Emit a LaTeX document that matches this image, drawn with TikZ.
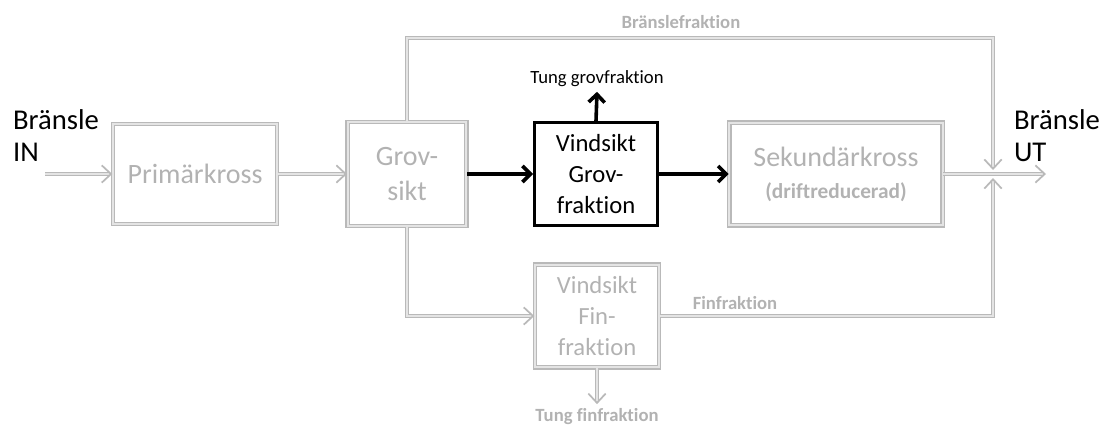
\documentclass[tikz,border=0pt]{standalone}
\usepackage{fontspec}
\setmainfont{Carlito}[Ligatures={NoCommon}]
\usepackage{tikz}
\usetikzlibrary{arrows.meta, positioning}
\definecolor{lightgraytext}{RGB}{178,178,178}
\definecolor{graylineout}{RGB}{185,185,185}
\definecolor{graylinein}{RGB}{228,228,228}
\tikzset{
  basebox/.style={rectangle, align=center, inner sep=2pt, font=\fontsize{21}{24}\selectfont},
  graybox/.style={basebox, draw=graylineout, double=graylinein, line width=1pt, double distance=1.4pt, text=lightgraytext},
  blackbox/.style={basebox, draw=black, line width=2.5pt, text=black},
  smalltext/.style={font=\fontsize{18.5}{23}\selectfont},
  grayarrow/.style={-{Straight Barb[length=7pt,width=13pt,line width=1.3pt]}, draw=graylineout, double=graylinein, line width=1pt, double distance=1.4pt},
  blackarrow/.style={-{Straight Barb[length=6pt,width=12pt]}, line width=2.7pt, color=black},
  graylabel/.style={font=\fontsize{14}{16}\selectfont\bfseries, text=lightgraytext},
  endlabel/.style={align=left, font=\fontsize{21.5}{24}\selectfont}
}
\begin{document}
\begin{tikzpicture}[x=0.75pt, y=-0.75pt]
  \useasboundingbox (0,0) rectangle (1105,428);
  % boxes
  \node[graybox, minimum width=123pt, minimum height=75pt] (prim) at (195,174) {Primärkross};
  \node[graybox, minimum width=89pt, minimum height=78pt] (grov) at (407,174) {Grov-\\[2pt]sikt};
  \node[blackbox, smalltext, minimum width=92pt, minimum height=77pt] (vgrov) at (596,174) {Vindsikt\\Grov-\\fraktion};
  \node[graybox, minimum width=160pt, minimum height=77pt] (sek) at (836,174) {Sekundärkross\\{\fontsize{16}{18}\selectfont\bfseries (driftreducerad)}};
  \node[graybox, smalltext, minimum width=93pt, minimum height=77pt] (vfin) at (597,316) {Vindsikt\\Fin-\\fraktion};
  % texts
  \node[endlabel] (in) at (56,136) {Bränsle\\IN};
  \node[endlabel] (ut) at (1057,136) {Bränsle\\UT};
  \node[font=\fontsize{14}{16}\selectfont] (tgrov) at (597,79) {Tung grovfraktion};
  \node[graylabel] (tfin) at (597,417) {Tung finfraktion};
  \node[graylabel] (bfrak) at (681,22) {Bränslefraktion};
  \node[graylabel] (ffrak) at (735,303) {Finfraktion};
  % junction points
  \coordinate (start) at (45,174);
  \coordinate (jtop) at (993,170);
  \coordinate (jbot) at (993,178);
  \coordinate (tr) at (993,38);
  \coordinate (outp) at (1046,174);
  % connectors
  \draw[grayarrow] (start) -- (prim.west);
  \draw[grayarrow] (prim.east) -- (grov.west);
  \draw[blackarrow] (grov.east) -- (vgrov.west);
  \draw[blackarrow] (vgrov.east) -- (sek.west);
  \draw[blackarrow] (vgrov.north) -- (tgrov.south);
  \draw[grayarrow] (grov.north) |- (tr) -- (jtop);
  \draw[grayarrow] (grov.south) |- (vfin.west);
  \draw[grayarrow] (vfin.east) -| (jbot);
  \draw[grayarrow] (vfin.south) -- (tfin.north);
  \draw[grayarrow] (sek.east) -- (outp);
\end{tikzpicture}
\end{document}
